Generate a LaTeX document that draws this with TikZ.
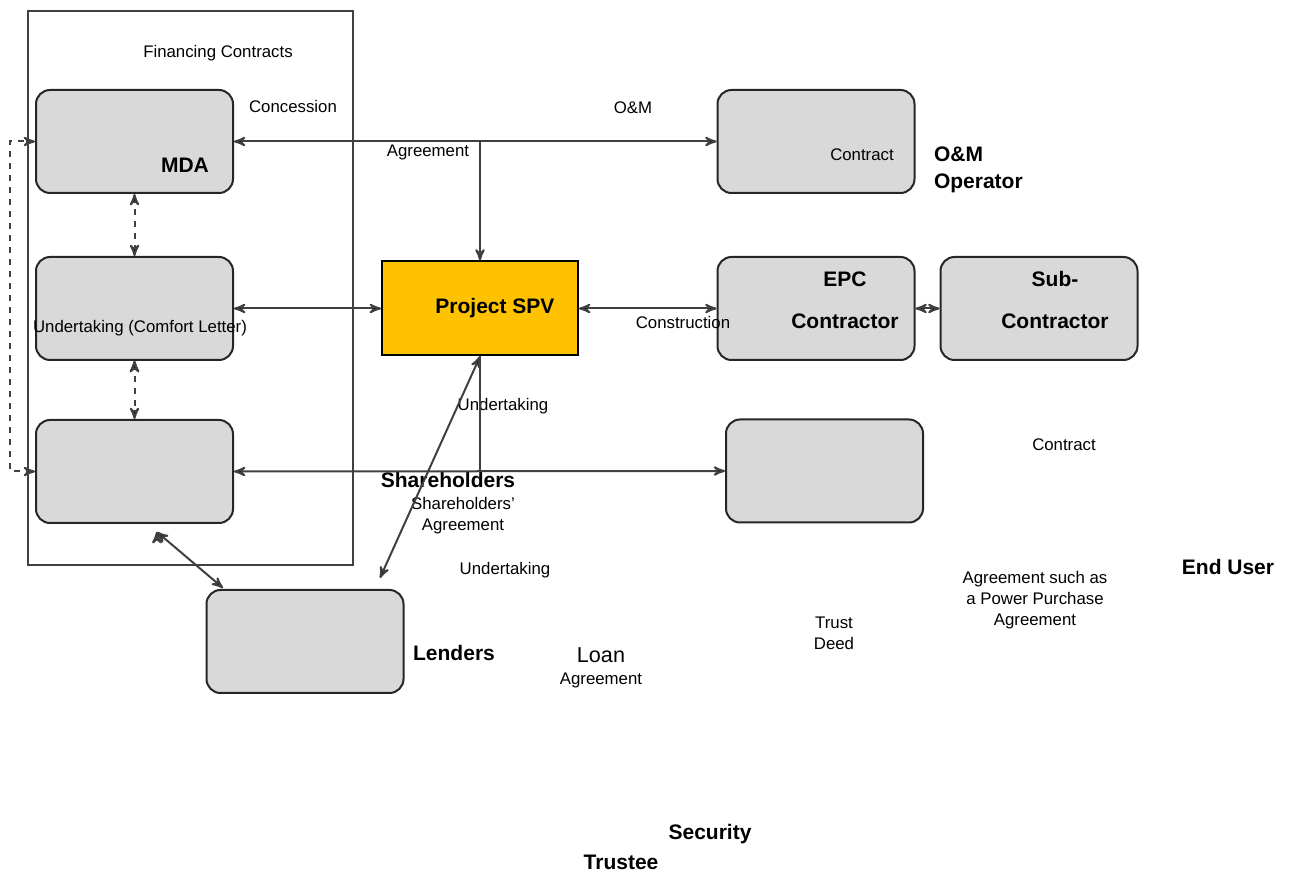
\documentclass[tikz,border=0pt]{standalone}
\usepackage{fontspec}
\setmainfont{Liberation Sans}
\usepackage{tikz}
\usetikzlibrary{arrows}
\usetikzlibrary{positioning}
\newcommand{\smalltxt}{\fontsize{8.4}{10.5}\selectfont}
\newcommand{\bigtxt}{\fontsize{10.5}{13.5}\selectfont\bfseries}

\begin{document}
\begin{tikzpicture}[x=0.5pt,y=-0.5pt,>=stealth',line width=1pt,
		party/.style={rectangle,rounded corners=7pt,draw=black!85,fill=black!15,minimum width=98.5pt,minimum height=51.5pt,inner sep=0pt},
		spvbox/.style={rectangle,draw=black,fill=orange!40!yellow!95!red,minimum width=98pt,minimum height=47pt,inner sep=0pt},
		conn/.style={draw=black!75},
		lbl/.style={inner sep=0pt,font=\smalltxt,align=center},
		bold/.style={inner sep=0pt,font=\bigtxt,align=left}]
		\useasboundingbox (0,0) rectangle (1292,871);

		% financing frame
		\draw[black!75] (28,11) rectangle (353,565);

		\node[party]  (mda)     at (134.5,141.5)  {};
		\node[party]  (comfort) [below=31pt of mda] {};
		\node[party]  (gov)     [below=29pt of comfort] {};
		\node[party]  (lenders) at (305,641.5)    {};
		\node[spvbox] (spv)     at (480,308.5)    {};
		\node[party]  (om)      at (816,141.5)    {};
		\node[party]  (epc)     at (816,308.5)    {};
		\node[party]  (sub)     [right=12pt of epc] {};
		\node[party]  (enduser) at (824.5,471)    {};

		\coordinate (omj)   at (480,141.5);
		\coordinate (shj)   at (480,471);
		\coordinate (lendtip) at (380,578);
		\coordinate (govtip)  at (157,532);
		\coordinate (lendtl)  at (223,588);

		% texts
		\node[lbl]  (fin)     at (218,53)  {Financing Contracts};
		\node[lbl]  (conc)    at (293,107) {Concession};
		\node[lbl]  (omtop)   at (633,108) {O\&M};
		\node[lbl]  (agr1)    at (428,152) {Agreement};
		\node[lbl]  (omcon)   at (862,155) {Contract};
		\node[bold,anchor=west] (omop) at (933,170) {O\&M\\Operator};
		\node[bold] (mdalbl)  at (185,165) {MDA};
		\node[lbl]  (comflbl) at (140,328) {Undertaking (Comfort Letter)};
		\node[bold] (spvlbl)  at (495,308) {Project SPV};
		\node[lbl]  (constr)  at (683,322) {Construction};
		\node[bold] (epc1)    at (845,279) {EPC};
		\node[bold] (epc2)    at (845,321) {Contractor};
		\node[bold] (sub1)    at (1055,279) {Sub-};
		\node[bold] (sub2)    at (1055,321) {Contractor};
		\node[lbl]  (und1)    at (503,406) {Undertaking};
		\node[lbl]  (eucon)   at (1064,445) {Contract};
		\node[bold] (shlbl)   at (448,480) {Shareholders};
		\node[lbl]  (shagr)   at (463,516) {Shareholders’\\Agreement};
		\node[lbl]  (und2)    at (505,570) {Undertaking};
		\node[bold] (eulbl)   at (1228,567) {End User};
		\node[lbl]  (ppa)     at (1035,600) {Agreement such as\\a Power Purchase\\Agreement};
		\node[lbl]  (trust)   at (834,633) {Trust\\Deed};
		\node[bold] (lendlbl) at (454,653) {Lenders};
		\node[inner sep=0pt,font=\fontsize{10.8}{13}\selectfont] (loan) at (601,655) {Loan};
		\node[lbl]  (loanagr) at (601,680) {Agreement};
		\node[bold] (sec)     at (710,834) {Security};
		\node[bold] (trustee) at (621,862) {Trustee};

		\path[conn,<->]
		(mda.east) edge (om.west)
		(comfort.east) edge (spv.west)
		(spv.east) edge (epc.west)
		(epc.east) edge (sub.west)
		(gov.east) edge (enduser.west)
		(spv.south) edge (lendtip)
		(govtip) edge (lendtl);
		\draw[conn,->] (omj) -- (spv.north);
		\draw[conn] (spv.south) -- (shj);

		\path[conn,<->,dashed]
		(mda.south) edge (comfort.north)
		(comfort.south) edge (gov.north);
		\draw[conn,<->,dashed] (gov.west) -- ++(-25,0) |- (mda.west);
\end{tikzpicture}
\end{document}
